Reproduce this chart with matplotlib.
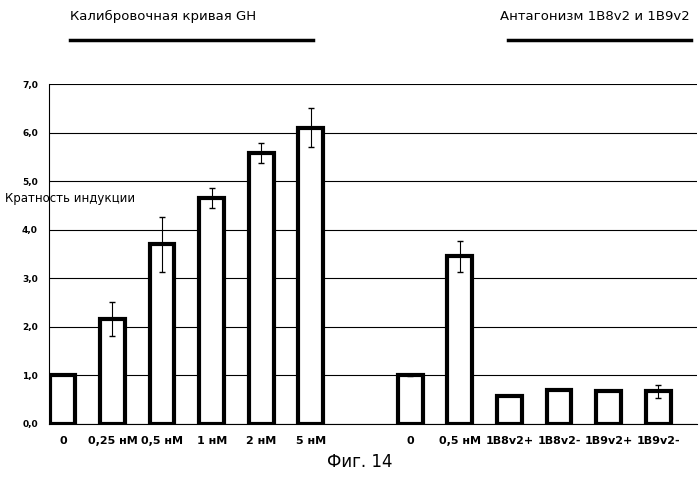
import matplotlib.pyplot as plt
import numpy as np

labels = ["0", "0,25 нМ", "0,5 нМ", "1 нМ", "2 нМ", "5 нМ",
          "0", "0,5 нМ", "1B8v2+", "1B8v2-", "1B9v2+", "1B9v2-"]
values = [1.0, 2.15, 3.7, 4.65, 5.58, 6.1, 1.0, 3.45, 0.58, 0.7, 0.67, 0.67]
errors = [0.0, 0.35, 0.57, 0.2, 0.2, 0.4, 0.02, 0.32, 0.0, 0.0, 0.0, 0.13]
slots = [0, 1, 2, 3, 4, 5, 7, 8, 9, 10, 11, 12]

narrow = "Liberation Sans Narrow"

fig = plt.figure(figsize=(6.99, 4.8), dpi=100)
ax = fig.add_axes([0.07, 0.117, 0.927, 0.708])
x = np.array(slots)
ax.bar(x, values, width=0.5, facecolor="white", edgecolor="black", linewidth=3, zorder=3)
ax.errorbar(x, values, yerr=errors, fmt="none", ecolor="black", elinewidth=0.8,
            capsize=2, zorder=4)

ax.set_xlim(-0.28, 12.78)
ax.set_ylim(0, 7)
ax.set_yticks(np.arange(0, 7.01, 1))
ax.set_yticklabels([f"{v:.1f}".replace(".", ",") for v in np.arange(0, 7.01, 1)],
                   fontsize=6.5, fontweight="bold", family=narrow)
ax.yaxis.grid(True, color="black", linewidth=0.8)
ax.tick_params(axis="y", length=0, pad=8)
ax.set_xticks(x)
ax.set_xticklabels(labels, fontsize=8, fontweight="bold", family=narrow)
ax.tick_params(axis="x", length=0, pad=9)
for s in ["top", "right"]:
    ax.spines[s].set_visible(False)
ax.spines["left"].set_linewidth(0.8)
ax.spines["bottom"].set_linewidth(0.8)

fig.text(0.007, 0.587, "Кратность индукции", fontsize=8.5, ha="left", va="center")
fig.text(0.1, 0.965, "Калибровочная кривая GH", fontsize=9.5, ha="left", va="center")
fig.add_artist(plt.Line2D([0.1, 0.448], [0.917, 0.917], color="black", linewidth=2.5))
fig.text(0.715, 0.965, "Антагонизм 1B8v2 и 1B9v2", fontsize=9.5, ha="left", va="center")
fig.add_artist(plt.Line2D([0.727, 0.988], [0.917, 0.917], color="black", linewidth=2.5))
fig.text(0.515, 0.038, "Фиг. 14", fontsize=12, ha="center", va="center")

fig.savefig("out.png", dpi=100)
